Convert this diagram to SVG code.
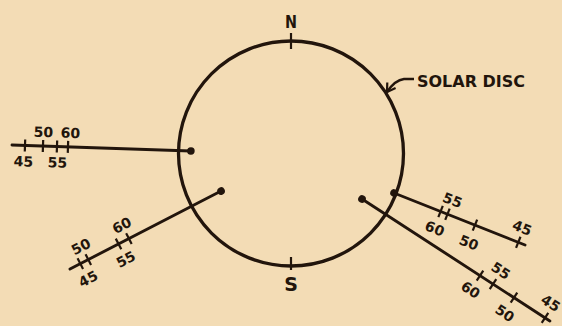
<svg xmlns="http://www.w3.org/2000/svg" width="562" height="326" viewBox="0 0 562 326">
<defs>
<style>
.ln{stroke:#22150c;stroke-width:2.9;fill:none;stroke-linecap:round}
.tk{stroke:#22150c;stroke-width:2.2;fill:none}
.num{font-family:"DejaVu Sans",sans-serif;font-weight:bold;font-size:14px;fill:#22150c;text-anchor:middle}
.lbl{font-family:"DejaVu Sans",sans-serif;font-weight:bold;fill:#22150c}
.dot{fill:#22150c}
</style>
<marker id="ah" markerWidth="14" markerHeight="14" refX="11" refY="7" orient="auto" markerUnits="userSpaceOnUse">
<path d="M3,2 L11,7 L3,12" fill="none" stroke="#22150c" stroke-width="2.2"/>
</marker>
</defs>
<rect width="562" height="326" fill="#f3dcb5"/>

<g id="disc">
<circle cx="291" cy="153.5" r="112.5" fill="none" stroke="#22150c" stroke-width="3.3"/>
<line class="tk" x1="291" y1="33" x2="291" y2="49"/>
<line class="tk" x1="291" y1="257" x2="291" y2="270"/>
<text class="lbl" x="291" y="28" font-size="17" text-anchor="middle" textLength="12" lengthAdjust="spacingAndGlyphs">N</text>
<text class="lbl" x="291" y="291" font-size="19" text-anchor="middle">S</text>
</g>

<g id="solar-disc-label">
<text class="lbl" x="417" y="87" font-size="16" textLength="108" lengthAdjust="spacingAndGlyphs">SOLAR DISC</text>
</g>

<g id="scale-west" transform="translate(12,145) rotate(1.92)">
<line class="ln" x1="0" y1="0" x2="179" y2="0"/>
<circle class="dot" cx="179" cy="0" r="3.8"/>
<line class="tk" x1="13" y1="-6" x2="13" y2="6"/>
<line class="tk" x1="31" y1="-6" x2="31" y2="6"/>
<line class="tk" x1="45" y1="-6" x2="45" y2="6"/>
<line class="tk" x1="56" y1="-6" x2="56" y2="6"/>
<text class="num" x="12" y="21">45</text>
<text class="num" x="31" y="-9">50</text>
<text class="num" x="46" y="21">55</text>
<text class="num" x="58" y="-9">60</text>
</g>

<g id="scale-southwest" transform="translate(70,269) rotate(-27.3)">
<line class="ln" x1="0" y1="0" x2="170" y2="0"/>
<circle class="dot" cx="170" cy="0" r="3.8"/>
<line class="tk" x1="11.6" y1="-6" x2="11.6" y2="6"/>
<line class="tk" x1="20.6" y1="-6" x2="20.6" y2="6"/>
<line class="tk" x1="54.6" y1="-6" x2="54.6" y2="6"/>
<line class="tk" x1="66.3" y1="-6" x2="66.3" y2="6"/>
<text class="num" x="11.6" y="22">45</text>
<text class="num" x="20" y="-10">50</text>
<text class="num" x="54" y="22">55</text>
<text class="num" x="66" y="-10">60</text>
</g>

<g id="scale-east" transform="translate(394,193) rotate(21.65)">
<line class="ln" x1="0" y1="0" x2="141" y2="0"/>
<circle class="dot" cx="0" cy="0" r="3.8"/>
<line class="tk" x1="50.1" y1="-6" x2="50.1" y2="6"/>
<line class="tk" x1="57.5" y1="-6" x2="57.5" y2="6"/>
<line class="tk" x1="87.1" y1="-6" x2="87.1" y2="6"/>
<line class="tk" x1="133.7" y1="-6" x2="133.7" y2="6"/>
<text class="num" x="51" y="23">60</text>
<text class="num" x="57" y="-10">55</text>
<text class="num" x="88" y="23.5">50</text>
<text class="num" x="132" y="-10">45</text>
</g>

<g id="scale-southeast" transform="translate(362,199) rotate(33)">
<line class="ln" x1="0" y1="0" x2="224" y2="0"/>
<circle class="dot" cx="0" cy="0" r="3.8"/>
<line class="tk" x1="140.7" y1="-6" x2="140.7" y2="6"/>
<line class="tk" x1="156.2" y1="-6" x2="156.2" y2="6"/>
<line class="tk" x1="181.2" y1="-6" x2="181.2" y2="6"/>
<line class="tk" x1="218.2" y1="-6" x2="218.2" y2="6"/>
<text class="num" x="140.5" y="22">60</text>
<text class="num" x="155.5" y="-10.5">55</text>
<text class="num" x="182" y="23">50</text>
<text class="num" x="215" y="-10.5">45</text>
</g>

<g id="connectors">
<path d="M414,79 L404,79 Q395,80 387,92" fill="none" stroke="#22150c" stroke-width="2.4" marker-end="url(#ah)"/>
</g>
</svg>
